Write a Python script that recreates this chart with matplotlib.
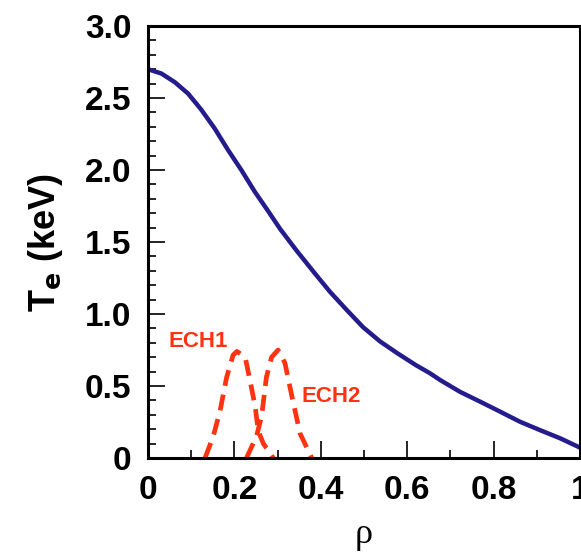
import numpy as np
import matplotlib.pyplot as plt
from matplotlib.ticker import FixedLocator, FixedFormatter, MultipleLocator

# electron temperature profile
rho_te = [0.0, 0.031, 0.062, 0.093, 0.123, 0.154, 0.185, 0.216, 0.247, 0.278,
          0.306, 0.344, 0.383, 0.421, 0.460, 0.498, 0.537, 0.576, 0.620, 0.653,
          0.676, 0.722, 0.769, 0.815, 0.861, 0.907, 0.954, 1.0]
te = [2.70, 2.67, 2.61, 2.53, 2.42, 2.29, 2.14, 2.00, 1.85, 1.715,
      1.59, 1.44, 1.294, 1.155, 1.028, 0.908, 0.81, 0.73, 0.645, 0.588,
      0.542, 0.460, 0.391, 0.322, 0.252, 0.194, 0.137, 0.072]

# ECH deposition profiles
rho_ech1 = [0.132, 0.151, 0.167, 0.182, 0.197, 0.206, 0.225, 0.236, 0.248, 0.255, 0.267, 0.290]
ech1 = [0.0, 0.15, 0.33, 0.56, 0.715, 0.74, 0.70, 0.54, 0.36, 0.19, 0.10, 0.0]
rho_ech2 = [0.228, 0.251, 0.263, 0.274, 0.286, 0.301, 0.317, 0.333, 0.352, 0.379]
ech2 = [0.0, 0.15, 0.29, 0.56, 0.70, 0.75, 0.66, 0.43, 0.17, 0.0]

xticks = [0, 0.2, 0.4, 0.6, 0.8, 1.0]
xlabels = ["0", "0.2", "0.4", "0.6", "0.8", "1"]
yticks = [0, 0.5, 1.0, 1.5, 2.0, 2.5, 3.0]
ylabels = ["0", "0.5", "1.0", "1.5", "2.0", "2.5", "3.0"]

plt.rcParams['font.family'] = ['Liberation Sans', 'DejaVu Sans']

fig = plt.figure(figsize=(5.81, 5.58), dpi=100)
ax = fig.add_axes([148/581, 100/558, 432/581, 432/558])

ax.plot(rho_te, te, color='#241c8c', lw=3.2, solid_joinstyle='round')
ax.plot(rho_ech1, ech1, color='#ff3311', lw=3.4, dashes=(3.4, 1.9))
ax.plot(rho_ech2, ech2, color='#ff3311', lw=3.4, dashes=(3.4, 1.9))

ax.text(0.116, 0.81, "ECH1", color='#ff3311', fontsize=16, fontweight='bold',
        ha='center', va='center')
ax.text(0.424, 0.427, "ECH2", color='#ff3311', fontsize=16, fontweight='bold',
        ha='center', va='center')

ax.set_xlim(0, 1)
ax.set_ylim(0, 3)
ax.xaxis.set_major_locator(FixedLocator(xticks))
ax.xaxis.set_major_formatter(FixedFormatter(xlabels))
ax.yaxis.set_major_locator(FixedLocator(yticks))
ax.yaxis.set_major_formatter(FixedFormatter(ylabels))
ax.xaxis.set_minor_locator(MultipleLocator(0.1))
ax.yaxis.set_minor_locator(MultipleLocator(0.1))
ax.tick_params(which='both', direction='in', width=1.2, labelsize=24)
ax.tick_params(which='major', length=12, pad=12)
ax.tick_params(which='minor', length=6)
for lab in ax.get_xticklabels() + ax.get_yticklabels():
    lab.set_fontweight('bold')
for s in ax.spines.values():
    s.set_linewidth(2.2)

ax.set_ylabel(r"T$_\mathbf{e}$ (keV)", fontsize=26, fontweight='bold', labelpad=14)
ax.set_xlabel("ρ", fontsize=26, family=['Liberation Serif', 'DejaVu Serif'], labelpad=9)

fig.savefig("out.png", dpi=100)
